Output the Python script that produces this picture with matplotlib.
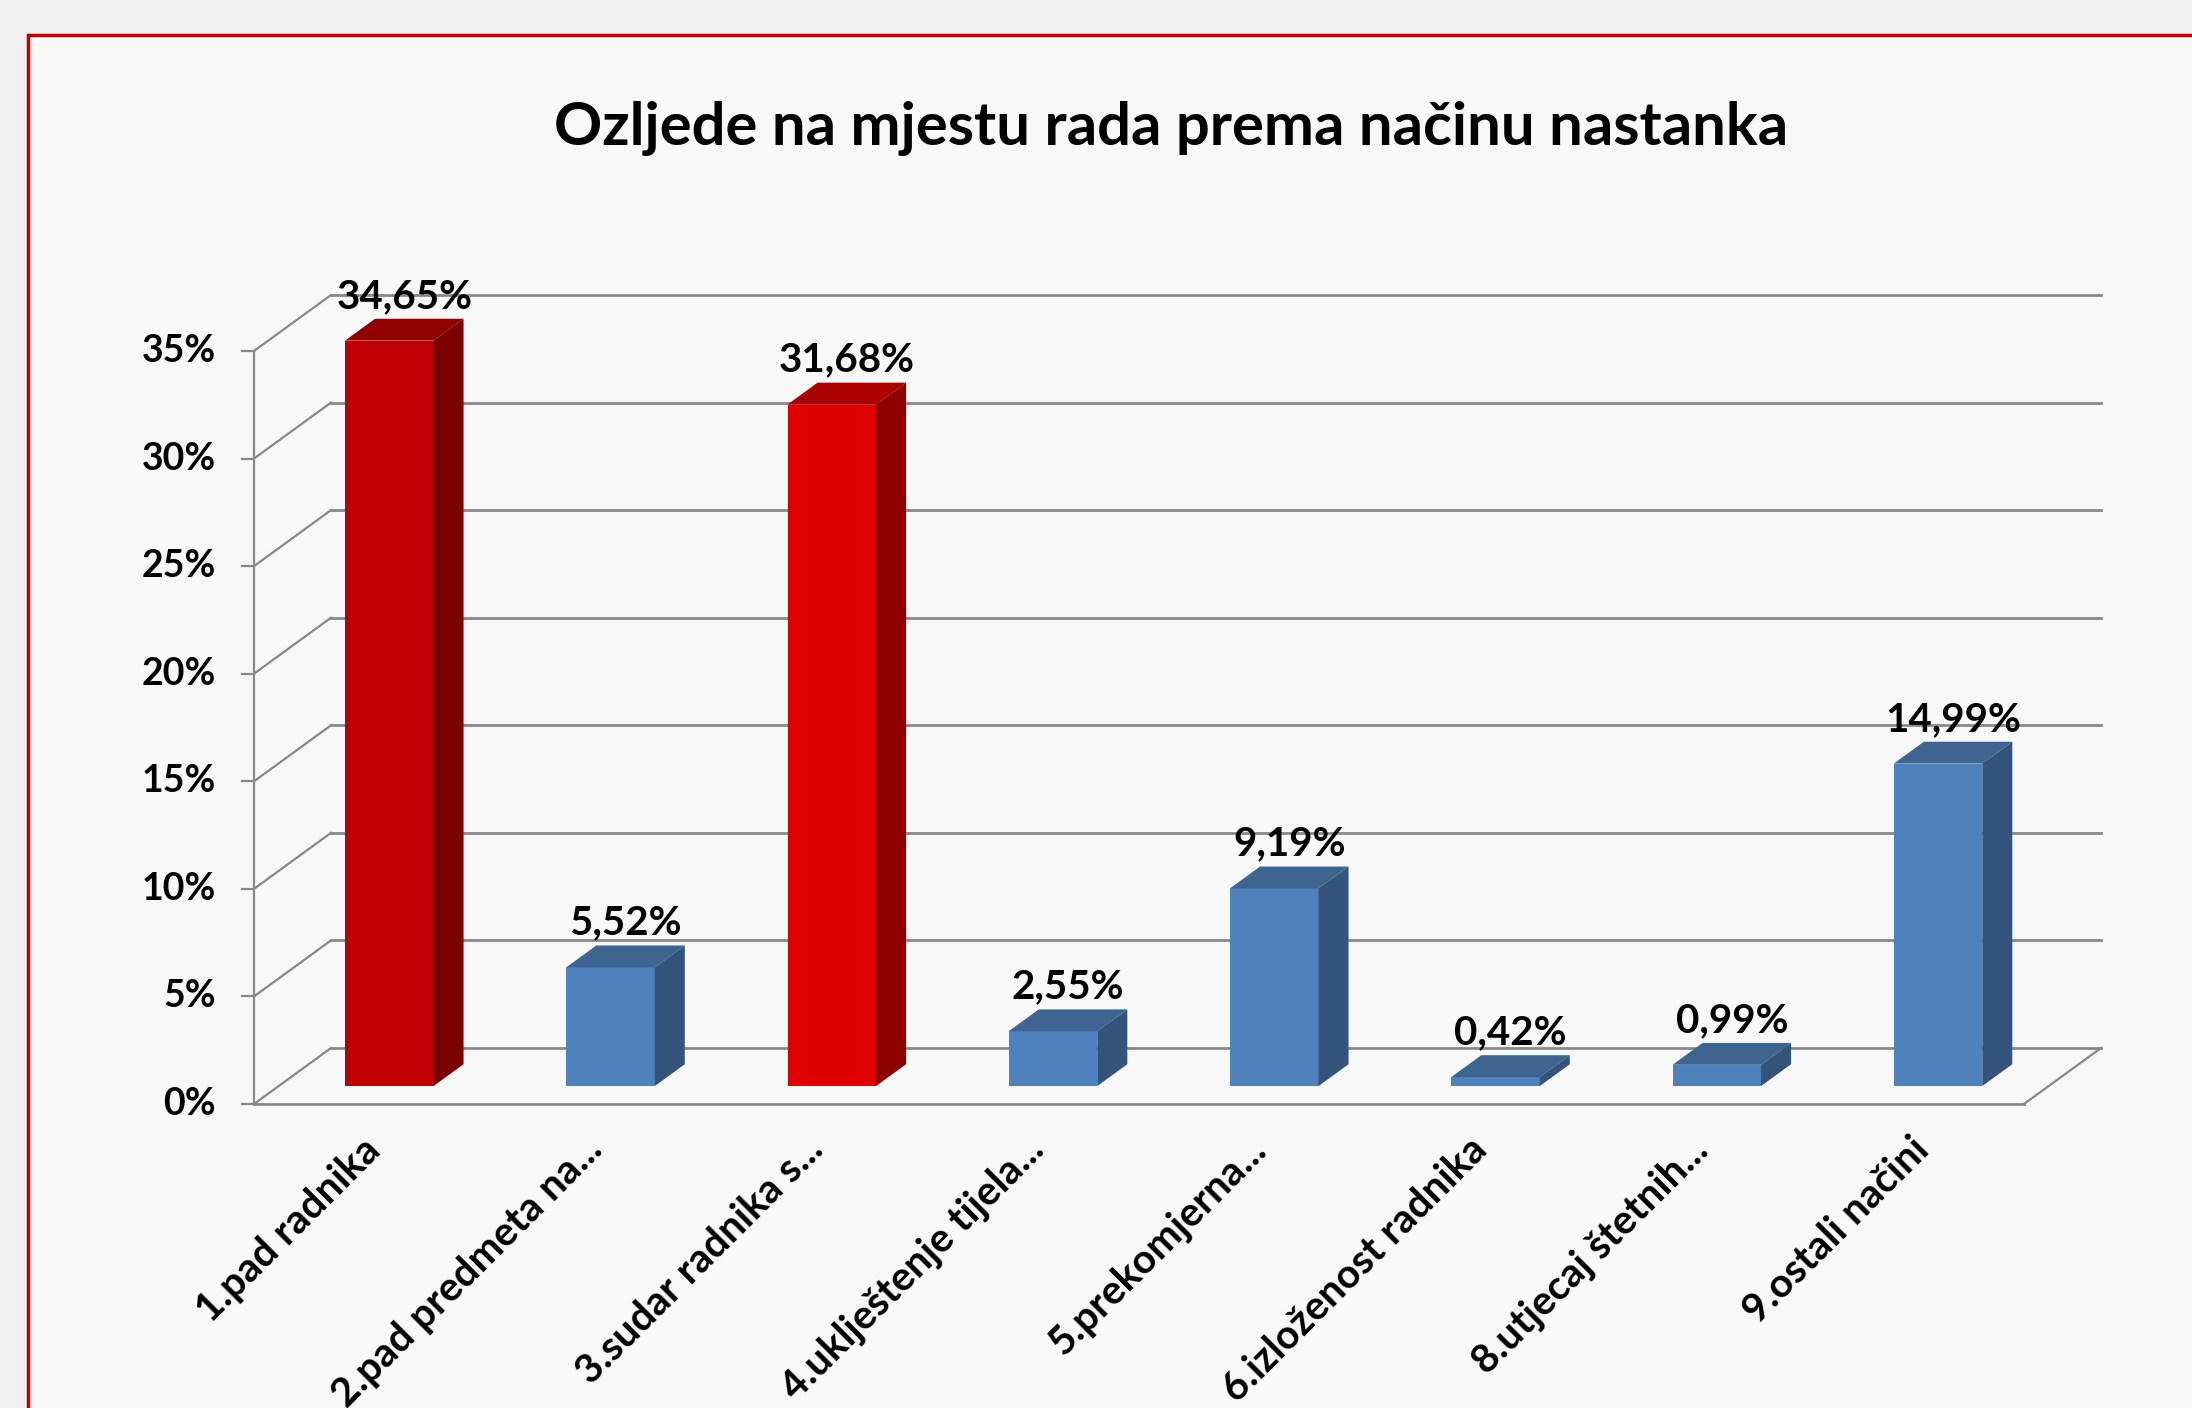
import matplotlib
matplotlib.use("Agg")
import matplotlib.pyplot as plt
from matplotlib.patches import Rectangle, Polygon

# ---------------------------
# Data
# ---------------------------
title = "Ozljede na mjestu rada prema načinu nastanka"
categories = ["1.pad radnika", "2.pad predmeta na...", "3.sudar radnika s...",
              "4.uklještenje tijela...", "5.prekomjerna...", "6.izloženost radnika",
              "8.utjecaj štetnih...", "9.ostali načini"]
values = [34.65, 5.52, 31.68, 2.55, 9.19, 0.42, 0.99, 14.99]
y_ticks = [0, 5, 10, 15, 20, 25, 30, 35]

# face colours (front, top, side)
red_dark = ("#C00000", "#900000", "#7A0000")
red_light = ("#E00000", "#AA0000", "#8E0000")
blue = ("#4F81BD", "#3E6490", "#34547C")
bar_colors = [red_dark, blue, red_light, blue, blue, blue, blue, blue]

plt.rcParams["font.family"] = ["Lato", "DejaVu Sans"]
plt.rcParams["font.weight"] = "bold"

W, H = 2192, 1408
fig = plt.figure(figsize=(W / 100, H / 100), dpi=100)
fig.patch.set_facecolor("#F0F0F0")

# chart frame with red border
fig.patches.append(Rectangle((28 / W, -0.05), 1.2, (H - 35) / H + 0.05,
                             transform=fig.transFigure, facecolor="#F8F8F8",
                             edgecolor="#C00000", linewidth=2.5, zorder=-5))

fig.text(1171 / W, 1 - 129 / H, title, ha="center", va="center",
         fontsize=43, fontweight="bold")

# front plane of the 3D box
left, right, bottom, top = 254, 2024, 1104, 351
ax = fig.add_axes([left / W, 1 - bottom / H, (right - left) / W, (bottom - top) / H])
ax.set_facecolor("none")
n = len(categories)
ax.set_xlim(-0.5, n - 0.5)
ax.set_ylim(0, 35)
for s in ax.spines.values():
    s.set_visible(False)
ax.set_xticks([])
ax.set_yticks([])

# depth offset in data units
px_x = (right - left) / n
px_y = (bottom - top) / 35
DX = 77 / px_x
DY = 56 / px_y
grid = "#888888"
x0, x1 = -0.5, n - 0.5

# back wall gridlines and left wall diagonals
for t in y_ticks:
    ax.plot([x0 + DX, x1 + DX], [t + DY, t + DY], color=grid, lw=2, clip_on=False, zorder=1)
    ax.plot([x0, x0 + DX], [t, t + DY], color=grid, lw=1.6, clip_on=False, zorder=1)
    ax.plot([x0 - 12 / px_x, x0], [t, t], color=grid, lw=1.6, clip_on=False, zorder=1)
    ax.text(x0 - 38 / px_x, t, f"{t}%", ha="right", va="center", fontsize=27,
            fontweight="bold")
# front axis and floor
ax.plot([x0, x0], [0, 35], color=grid, lw=1.6, clip_on=False, zorder=1)
ax.plot([x0, x1], [0, 0], color=grid, lw=2, clip_on=False, zorder=1)
ax.plot([x1, x1 + DX], [0, DY], color=grid, lw=1.6, clip_on=False, zorder=1)

# bars
d0, d1 = 0.32, 0.71
bw = 0.4
for i, (v, c) in enumerate(zip(values, bar_colors)):
    fx, fy = d0 * DX, d0 * DY
    bx, by = d1 * DX, d1 * DY
    xl, xr = i - bw / 2, i + bw / 2
    ax.bar(i + fx, v, width=bw, bottom=fy, color=c[0], zorder=3, clip_on=False)
    top_face = [(xl + fx, v + fy), (xr + fx, v + fy), (xr + bx, v + by), (xl + bx, v + by)]
    side_face = [(xr + fx, fy), (xr + fx, v + fy), (xr + bx, v + by), (xr + bx, by)]
    ax.add_patch(Polygon(top_face, closed=True, facecolor=c[1], edgecolor="none",
                         zorder=3, clip_on=False))
    ax.add_patch(Polygon(side_face, closed=True, facecolor=c[2], edgecolor="none",
                         zorder=3, clip_on=False))
    ax.text(i + (d0 + d1) / 2 * DX, v + by + 4 / px_y, f"{v:.2f}%".replace(".", ","),
            ha="center", va="bottom", fontsize=29, fontweight="bold", zorder=4)

# rotated category labels
for i, lab in enumerate(categories):
    ax.annotate(lab, xy=(i, 0), xytext=(10, -40), textcoords="offset pixels",
                rotation=45, ha="right", va="center", rotation_mode="anchor",
                fontsize=29, fontweight="bold", annotation_clip=False)

fig.savefig("out.png", dpi=100, facecolor=fig.get_facecolor())
